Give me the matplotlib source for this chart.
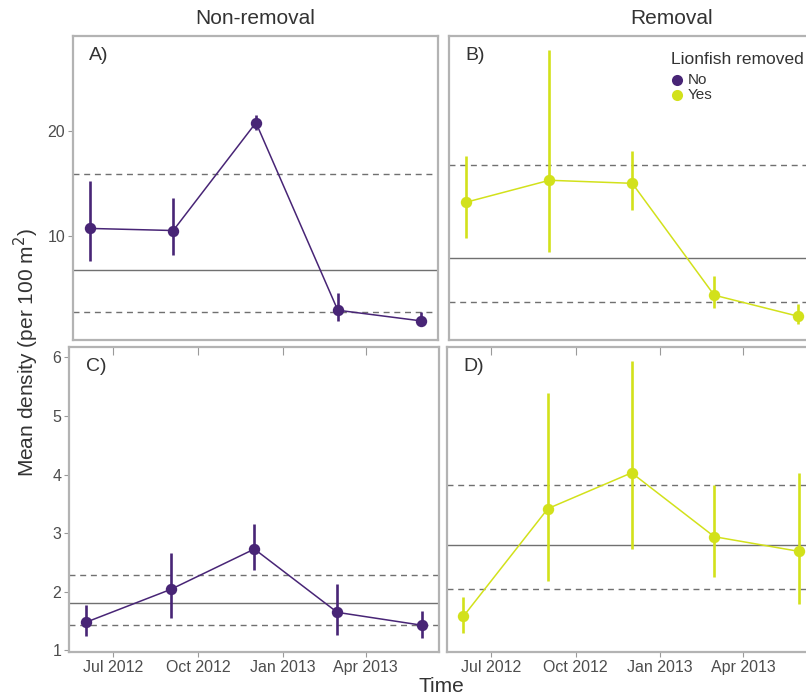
import matplotlib
matplotlib.use('Agg')
import matplotlib.pyplot as plt
import matplotlib.dates as mdates
from matplotlib.lines import Line2D
import numpy as np

plt.rcParams['font.family'] = ['Liberation Sans', 'DejaVu Sans']

# survey dates (same for every panel)
dates = np.array(['2012-06-01', '2012-09-01', '2012-12-01', '2013-03-01', '2013-06-01'],
                 dtype='datetime64[D]')

# A) non-removal, top row
a_mean = [10.7, 10.5, 20.76, 2.92, 1.9]
a_lo = [7.6, 8.13, 20.07, 1.88, 1.4]
a_hi = [15.2, 13.56, 21.5, 4.51, 2.76]
a_ref = [6.73, 15.9, 2.76]   # mean, upper, lower

# B) removal, top row
b_mean = [13.18, 15.28, 14.99, 4.35, 2.35]
b_lo = [9.81, 8.42, 12.42, 3.09, 1.59]
b_hi = [17.59, 27.69, 18.07, 6.16, 3.5]
b_ref = [7.9, 16.73, 3.71]

# C) non-removal, bottom row
c_mean = [1.48, 2.04, 2.73, 1.65, 1.43]
c_lo = [1.24, 1.56, 2.38, 1.27, 1.21]
c_hi = [1.77, 2.67, 3.15, 2.14, 1.68]
c_ref = [1.81, 2.29, 1.43]

# D) removal, bottom row
d_mean = [1.58, 3.42, 4.03, 2.94, 2.69]
d_lo = [1.30, 2.18, 2.73, 2.25, 1.80]
d_hi = [1.92, 5.39, 5.94, 3.82, 4.03]
d_ref = [2.80, 3.82, 2.05]

legend_labels = ['No', 'Yes']

col_no = '#482576'
col_yes = '#d2e11b'
border = '#b3b3b3'
refcol = '#707070'
txtcol = '#4d4d4d'


def expand(lo, hi, f=0.05):
    r = hi - lo
    return lo - f * r, hi + f * r


xnum = mdates.date2num(dates)
xlim = expand(xnum.min(), xnum.max())
top_lim = expand(min(a_lo + b_lo), max(a_hi + b_hi))
bot_lim = expand(min(c_lo + d_lo), max(c_hi + d_hi))

fig = plt.figure(figsize=(8.06, 7.0), dpi=100)
W, H = 806.0, 700.0


def make_ax(l, r, t, b):
    return fig.add_axes([l / W, 1 - b / H, (r - l) / W, (b - t) / H])


ax_a = make_ax(73, 438, 36, 340)
ax_b = make_ax(449, 814.6, 36, 340)
ax_c = make_ax(69, 438.8, 347, 652)
ax_d = make_ax(446.5, 815.8, 347, 652)


def draw_panel(ax, mean, lo, hi, ref, color, label, ylim):
    ax.axhline(ref[0], color=refcol, lw=1.0, zorder=1)
    ax.axhline(ref[1], color=refcol, lw=1.0, ls=(0, (4.3, 3.4)), zorder=1)
    ax.axhline(ref[2], color=refcol, lw=1.0, ls=(0, (4.3, 3.4)), zorder=1)
    ax.vlines(dates, lo, hi, color=color, lw=1.9, zorder=2)
    ax.plot(dates, mean, color=color, lw=1.1, zorder=3)
    ax.plot(dates, mean, 'o', color=color, ms=8.2, mew=0, zorder=4)
    ax.set_xlim(xlim)
    ax.set_ylim(ylim)
    ax.xaxis.set_major_locator(mdates.MonthLocator(bymonth=[1, 4, 7, 10]))
    ax.xaxis.set_major_formatter(mdates.DateFormatter('%b %Y'))
    for s in ax.spines.values():
        s.set_color(border)
        s.set_linewidth(1.6)
    ax.tick_params(colors='#9a9a9a', labelcolor=txtcol, labelsize=11.5,
                   length=3.5, width=0.8, pad=2)
    ax.text(0.045, 0.935, label, transform=ax.transAxes, fontsize=14,
            color='#333333', ha='left', va='center')


draw_panel(ax_a, a_mean, a_lo, a_hi, a_ref, col_no, 'A)', top_lim)
draw_panel(ax_b, b_mean, b_lo, b_hi, b_ref, col_yes, 'B)', top_lim)
draw_panel(ax_c, c_mean, c_lo, c_hi, c_ref, col_no, 'C)', bot_lim)
draw_panel(ax_d, d_mean, d_lo, d_hi, d_ref, col_yes, 'D)', bot_lim)

ax_a.set_yticks([10, 20])
ax_b.set_yticks([])
ax_d.set_yticks([])
ax_c.set_yticks([1, 2, 3, 4, 5, 6])
for ax in (ax_a, ax_b):
    ax.tick_params(axis='x', bottom=False, labelbottom=False)
# faint tick marks just inside the top edge of the lower panels
for ax in (ax_c, ax_d):
    ax.tick_params(axis='x', top=True)
    for t in ax.xaxis.get_ticklines()[1::2]:
        t.set_marker(3)
        t.set_markersize(6)
        t.set_color('#dadada')

# column strip titles
fig.text(255.5 / W, 1 - 18 / H, 'Non-removal', ha='center', va='center',
         fontsize=15, color='#333333')
fig.text(672 / W, 1 - 18 / H, 'Removal', ha='center', va='center',
         fontsize=15, color='#333333')

fig.text(26 / W, 1 - 353 / H, 'Mean density (per 100 m$^2$)', rotation=90,
         ha='center', va='center', fontsize=15, color='#333333')
fig.text(441 / W, 1 - 686 / H, 'Time', ha='center', va='center',
         fontsize=15, color='#333333')

# legend drawn by hand inside panel B
fig.text(671 / W, 1 - 59 / H, 'Lionfish removed', ha='left', va='center',
         fontsize=12.5, color='#333333')
for lab, col, yy in zip(legend_labels, [col_no, col_yes], [80, 95]):
    fig.add_artist(Line2D([677 / W], [1 - yy / H], marker='o', ls='none',
                          color=col, ms=8, mew=0, transform=fig.transFigure))
    fig.text(688 / W, 1 - yy / H, lab, ha='left', va='center',
             fontsize=11, color='#333333')

fig.savefig('out.png', dpi=100)
